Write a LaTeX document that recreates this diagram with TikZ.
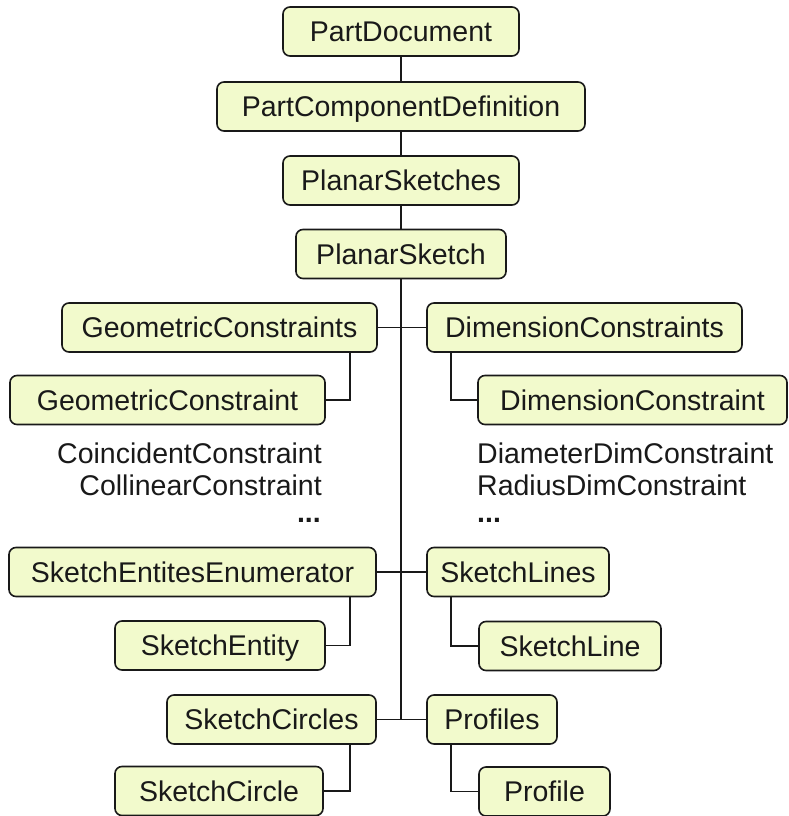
\documentclass[tikz,border=0pt]{standalone}
\usepackage{fontspec}
\setmainfont{Liberation Sans}
\definecolor{boxfill}{RGB}{242,250,204}
\definecolor{ink}{RGB}{25,25,25}
\begin{document}
\begin{tikzpicture}[x=1pt,y=-1pt,
  font=\fontsize{28.5}{30}\selectfont,
  box/.style={draw=ink,fill=boxfill,line width=1.6pt,rounded corners=7pt,
    inner sep=0pt,minimum height=49pt,text height=20.4pt,text depth=0pt,text=ink},
  lbl/.style={inner sep=0pt,text height=20.4pt,text depth=0pt,text=ink},
  conn/.style={draw=ink,line width=1.6pt}]
\useasboundingbox (0,0) rectangle (789,816);
\node[box,minimum width=236pt] (pd) at (401,31.5) {PartDocument};
\node[box,minimum width=368pt] (pcd) at (401,106.5) {PartComponentDefinition};
\node[box,minimum width=236pt] (pss) at (401,180.5) {PlanarSketches};
\node[box,minimum width=210pt] (ps) at (401,254) {PlanarSketch};
\node[box,minimum width=315pt] (gcs) at (219.5,327.5) {GeometricConstraints};
\node[box,minimum width=315pt] (gc) at (167.5,400) {GeometricConstraint};
\node[box,minimum width=315pt] (dcs) at (584.5,327.5) {DimensionConstraints};
\node[box,minimum width=309pt] (dc) at (632.5,400) {DimensionConstraint};
\node[box,minimum width=367pt] (see) at (192.5,572) {SketchEntitesEnumerator};
\node[box,minimum width=210pt] (se) at (220,645.5) {SketchEntity};
\node[box,minimum width=182pt] (sl) at (518,572) {SketchLines};
\node[box,minimum width=182pt] (sline) at (570,646) {SketchLine};
\node[box,minimum width=209pt] (sc) at (271.5,719.5) {SketchCircles};
\node[box,minimum width=208pt] (scircle) at (219,791) {SketchCircle};
\node[box,minimum width=130pt] (pr) at (492,719.5) {Profiles};
\node[box,minimum width=131pt] (prof) at (544.5,791.5) {Profile};
% texts
\node[lbl,anchor=east] (t1) at (322,453) {CoincidentConstraint};
\node[lbl,anchor=east] (t2) at (322,485) {CollinearConstraint};
\node[lbl,anchor=east] (t3) at (321,512) {\textbf{...}};
\node[lbl,anchor=west] (t4) at (477,453) {DiameterDimConstraint};
\node[lbl,anchor=west] (t5) at (477,485) {RadiusDimConstraint};
\node[lbl,anchor=west] (t6) at (477,512) {\textbf{...}};
% connectors
\coordinate (trunkend) at (401,719.5);
\draw[conn] (pd.south) -- (pcd.north);
\draw[conn] (pcd.south) -- (pss.north);
\draw[conn] (pss.south) -- (ps.north);
\draw[conn] (ps.south) -- (trunkend);
\draw[conn] (gcs.east) -- (dcs.west);
\draw[conn] (see.east) -- (sl.west);
\draw[conn] (sc.east) -- (pr.west);
\draw[conn] ([xshift=-28pt]gcs.south east) |- (gc.east);
\draw[conn] ([xshift=25pt]dcs.south west) |- (dc.west);
\draw[conn] ([xshift=-27pt]see.south east) |- (se.east);
\draw[conn] ([xshift=25pt]sl.south west) |- (sline.west);
\draw[conn] ([xshift=-27pt]sc.south east) |- (scircle.east);
\draw[conn] ([xshift=25pt]pr.south west) |- (prof.west);
\end{tikzpicture}
\end{document}
